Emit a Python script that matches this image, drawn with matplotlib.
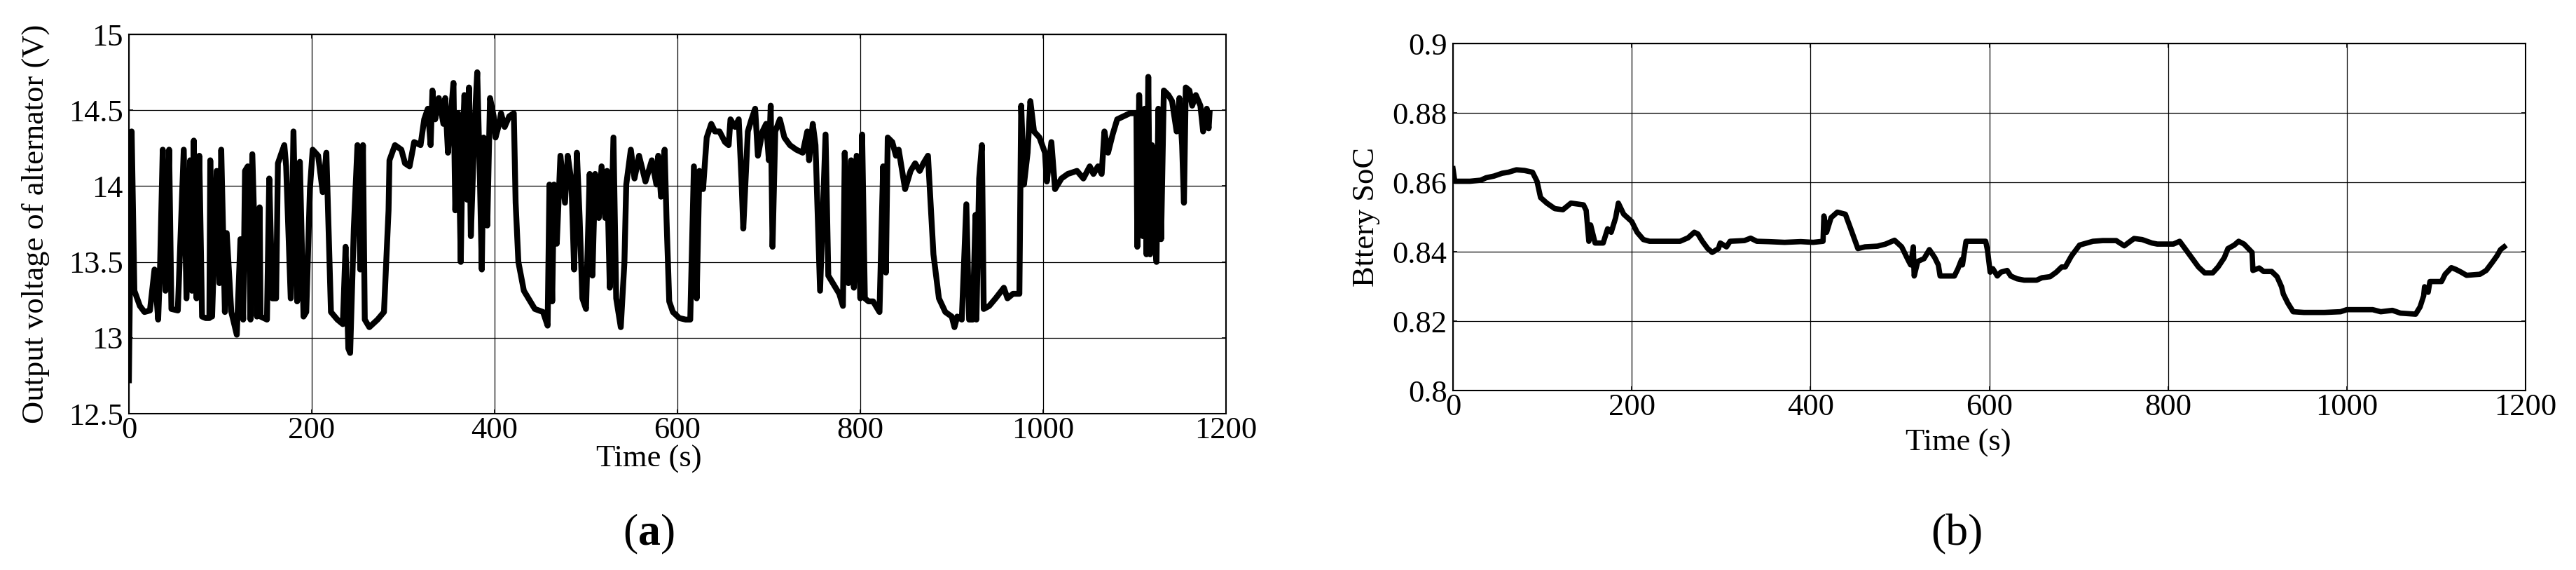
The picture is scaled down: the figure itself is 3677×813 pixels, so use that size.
import numpy as np
import matplotlib
matplotlib.use("Agg")
import matplotlib.pyplot as plt

plt.rcParams['font.family'] = ['Liberation Serif', 'DejaVu Serif']
plt.rcParams['mathtext.fontset'] = 'custom'
plt.rcParams['mathtext.rm'] = 'Liberation Serif'
plt.rcParams['mathtext.bf'] = 'Liberation Serif:bold'

# (a) alternator output voltage
t_volt = [0, 3, 6, 12, 17, 23, 28, 32, 34, 37, 40, 44, 46.5, 53.5, 60, 63, 67, 69, 71, 72,
          74, 77, 80, 84, 88, 89, 91, 96, 99, 101, 105, 107, 112, 118, 122, 125, 127, 130, 133, 135,
          140, 143, 144, 151, 153.5, 157, 161, 163, 167, 170, 172, 177, 180, 184, 187, 191, 194, 198, 201, 207,
          212, 216, 221, 228, 234, 237, 240, 242, 246, 250, 253, 256, 258, 263, 272, 279, 284, 285, 291, 298,
          302, 307, 312, 319, 323, 327, 330, 332, 335, 339, 344, 346, 349, 351, 355, 357, 360, 363, 365, 367,
          370, 372, 374, 378, 381, 384, 386, 388, 392, 395, 399, 401, 405, 407, 411, 416, 421, 423, 426, 432,
          444, 453, 458, 460, 463, 465, 468, 472, 477, 480, 484, 487, 490, 493, 496, 500, 504, 507, 510, 514,
          517, 521, 523, 526, 530, 533, 538, 542, 544, 549, 553, 558, 565, 572, 577, 579, 582, 586, 588, 591,
          595, 602, 609, 614, 618, 621, 624, 628, 632, 637, 641, 646, 652, 656, 658, 663, 667, 670, 672, 677,
          681, 685, 688, 693, 697, 700, 702, 704, 707, 712, 717, 723, 730, 737, 742, 744, 748, 751, 756, 758,
          762, 765, 770, 777, 781, 783, 787, 790, 793, 796, 800, 802, 805, 809, 814, 821, 825, 828, 830, 835,
          839, 842, 849, 855, 860, 865, 869, 874, 880, 886, 893, 900, 903, 906, 911, 916, 919, 923, 926, 927,
          930, 933, 935, 941, 948, 957, 961, 967, 974, 976, 979, 983, 986, 990, 996, 1002, 1004, 1009, 1013, 1020,
          1027, 1037, 1044, 1051, 1055, 1060, 1064, 1067, 1071, 1076, 1081, 1088, 1095, 1102, 1103, 1105, 1109, 1111, 1113, 1115,
          1117, 1119, 1121, 1124, 1126, 1129, 1132, 1137, 1141, 1146, 1149, 1152, 1154, 1156, 1160, 1163, 1167, 1172, 1175, 1179,
          1181, 1182]
volt = [12.72, 14.36, 13.31, 13.21, 13.17, 13.18, 13.45, 13.12, 13.45, 14.24, 13.31, 14.24, 13.19, 13.18, 14.24, 13.26, 14.17, 13.31, 14.30, 13.79,
        13.26, 14.20, 13.14, 13.13, 13.13, 14.17, 13.14, 14.10, 13.36, 14.24, 13.17, 13.69, 13.17, 13.02, 13.65, 13.12, 14.10, 14.13, 13.12, 14.21,
        13.14, 13.86, 13.14, 13.12, 14.05, 13.26, 13.26, 14.15, 14.22, 14.27, 14.13, 13.26, 14.36, 13.24, 14.16, 13.14, 13.17, 13.98, 14.24, 14.20,
        13.96, 14.22, 13.17, 13.12, 13.09, 13.60, 12.93, 12.90, 13.72, 14.27, 13.45, 14.27, 13.12, 13.07, 13.12, 13.17, 13.84, 14.17, 14.27, 14.24,
        14.15, 14.13, 14.29, 14.27, 14.44, 14.51, 14.27, 14.63, 14.44, 14.58, 14.41, 14.58, 14.22, 14.39, 14.68, 13.84, 14.48, 13.50, 14.27, 14.60,
        13.91, 14.65, 13.67, 14.39, 14.75, 14.03, 13.45, 14.32, 13.74, 14.58, 14.46, 14.32, 14.41, 14.48, 14.39, 14.46, 14.48, 13.89, 13.50, 13.31,
        13.19, 13.17, 13.08, 14.01, 13.24, 14.01, 13.62, 14.20, 13.89, 14.20, 14.03, 13.45, 14.22, 13.79, 13.26, 13.19, 14.08, 13.41, 14.08, 13.79,
        14.13, 13.79, 14.10, 13.33, 14.32, 13.26, 13.07, 13.50, 14.01, 14.24, 14.05, 14.20, 14.03, 14.17, 14.01, 14.20, 13.93, 14.24, 13.79, 13.24,
        13.17, 13.13, 13.12, 13.12, 14.13, 13.26, 14.10, 13.98, 14.32, 14.41, 14.36, 14.36, 14.29, 14.27, 14.44, 14.39, 14.44, 14.05, 13.72, 14.36,
        14.44, 14.51, 14.20, 14.36, 14.41, 14.17, 14.53, 13.60, 14.36, 14.44, 14.32, 14.27, 14.24, 14.22, 14.36, 14.17, 14.41, 14.27, 13.31, 13.65,
        14.34, 13.41, 13.36, 13.29, 13.21, 14.22, 13.36, 14.17, 13.33, 14.20, 13.26, 14.34, 13.26, 13.24, 13.24, 13.17, 14.13, 13.43, 14.32, 14.29,
        14.20, 14.24, 13.98, 14.10, 14.15, 14.10, 14.15, 14.20, 13.55, 13.26, 13.17, 13.14, 13.07, 13.14, 13.12, 13.88, 13.12, 13.12, 13.81, 13.12,
        14.05, 14.27, 13.19, 13.21, 13.26, 13.33, 13.26, 13.29, 13.29, 14.53, 14.01, 14.22, 14.56, 14.36, 14.32, 14.22, 14.03, 14.29, 13.98, 14.05,
        14.08, 14.10, 14.05, 14.13, 14.08, 14.13, 14.08, 14.36, 14.22, 14.34, 14.44, 14.46, 14.48, 14.48, 13.60, 14.60, 13.67, 14.51, 13.55, 14.72,
        13.55, 14.27, 13.74, 13.50, 14.51, 13.65, 14.63, 14.60, 14.56, 14.36, 14.58, 14.27, 13.89, 14.65, 14.63, 14.53, 14.60, 14.53, 14.36, 14.51,
        14.38, 14.48]

# (b) battery state of charge
t_soc = [0, 2, 19, 31, 37, 46, 55, 62, 71, 80, 89, 94, 98, 105, 114, 123, 132, 146, 149, 152,
         154, 159, 168, 173, 177, 182, 185, 191, 200, 206, 213, 220, 254, 263, 270, 274, 279, 285, 290, 297,
         299, 306, 310, 326, 333, 340, 353, 371, 389, 403, 414, 415, 418, 423, 430, 439, 445, 453, 461, 475,
         484, 494, 502, 509, 512, 515, 516, 520, 527, 533, 539, 543, 545, 561, 565, 569, 570, 574, 596, 598,
         601, 604, 609, 613, 620, 624, 631, 639, 653, 659, 668, 675, 681, 685, 692, 701, 705, 716, 727, 742,
         751, 762, 771, 782, 788, 806, 813, 819, 828, 834, 841, 850, 856, 863, 867, 874, 879, 885, 894, 895,
         902, 907, 916, 922, 927, 929, 934, 940, 952, 975, 993, 1000, 1029, 1038, 1051, 1060, 1077, 1082, 1086, 1087,
         1091, 1093, 1106, 1110, 1117, 1122, 1128, 1134, 1149, 1156, 1163, 1168, 1172, 1176]
soc = [0.8639, 0.8603, 0.8603, 0.8606, 0.8613, 0.8618, 0.8626, 0.8629, 0.8636, 0.8634, 0.8629, 0.8603, 0.8556, 0.8540, 0.8524, 0.8521, 0.8540, 0.8535, 0.8519, 0.8430,
       0.8477, 0.8425, 0.8425, 0.8466, 0.8456, 0.8498, 0.8540, 0.8508, 0.8487, 0.8456, 0.8435, 0.8430, 0.8430, 0.8440, 0.8456, 0.8451, 0.8430, 0.8409, 0.8398, 0.8409,
       0.8425, 0.8414, 0.8430, 0.8432, 0.8439, 0.8430, 0.8429, 0.8427, 0.8429, 0.8427, 0.8430, 0.8503, 0.8456, 0.8498, 0.8514, 0.8508, 0.8466, 0.8409, 0.8414, 0.8416,
       0.8422, 0.8433, 0.8414, 0.8377, 0.8362, 0.8414, 0.8330, 0.8372, 0.8380, 0.8406, 0.8383, 0.8362, 0.8330, 0.8330, 0.8351, 0.8377, 0.8362, 0.8430, 0.8430, 0.8404,
       0.8341, 0.8351, 0.8330, 0.8341, 0.8346, 0.8330, 0.8322, 0.8318, 0.8318, 0.8325, 0.8328, 0.8341, 0.8356, 0.8356, 0.8388, 0.8419, 0.8422, 0.8430, 0.8432, 0.8432,
       0.8417, 0.8438, 0.8435, 0.8425, 0.8422, 0.8422, 0.8430, 0.8409, 0.8377, 0.8356, 0.8339, 0.8339, 0.8356, 0.8383, 0.8409, 0.8419, 0.8430, 0.8422, 0.8398, 0.8346,
       0.8353, 0.8343, 0.8343, 0.8328, 0.8299, 0.8278, 0.8252, 0.8227, 0.8225, 0.8225, 0.8227, 0.8233, 0.8233, 0.8227, 0.8231, 0.8223, 0.8220, 0.8241, 0.8273, 0.8299,
       0.8283, 0.8314, 0.8314, 0.8335, 0.8354, 0.8349, 0.8341, 0.8332, 0.8335, 0.8346, 0.8370, 0.8388, 0.8406, 0.8414]

x_ticks = [0, 200, 400, 600, 800, 1000, 1200]
volt_ticks = [12.5, 13, 13.5, 14, 14.5, 15]
volt_labels = ["12.5", "13", "13.5", "14", "14.5", "15"]
soc_ticks = [0.8, 0.82, 0.84, 0.86, 0.88, 0.9]
soc_labels = ["0.8", "0.82", "0.84", "0.86", "0.88", "0.9"]

W, H = 3677, 813
fig = plt.figure(figsize=(W / 100, H / 100), dpi=100)

ax1 = fig.add_axes([184 / W, 1 - 590 / H, (1750 - 184) / W, (590 - 49) / H])
ax2 = fig.add_axes([2074 / W, 1 - 557 / H, (3605 - 2074) / W, (557 - 62) / H])

fs = 32


def style(ax):
    ax.set_xlim(0, 1200)
    ax.set_xticks(x_ticks)
    ax.grid(True, color="black", linewidth=0.9)
    ax.tick_params(direction="in", length=4, width=1.2, top=True, right=True,
                   labelsize=fs, pad=3)
    ax.tick_params(axis="y", pad=6)
    for s in ax.spines.values():
        s.set_linewidth(1.5)


ax1.plot(t_volt, volt, color="black", linewidth=6)
style(ax1)
ax1.set_ylim(12.5, 15)
ax1.set_yticks(volt_ticks)
ax1.set_yticklabels(volt_labels)
ax1.set_xlabel("Time (s)", fontsize=fs)
ax1.xaxis.set_label_coords(0.474, -0.083)
ax1.set_ylabel("Output voltage of alternator (V)", fontsize=fs)
ax1.yaxis.set_label_coords(-0.072, 0.5)

ax2.plot(t_soc, soc, color="black", linewidth=5.5)
style(ax2)
ax2.set_ylim(0.8, 0.9)
ax2.set_yticks(soc_ticks)
ax2.set_yticklabels(soc_labels)
ax2.set_xlabel("Time (s)", fontsize=fs)
ax2.xaxis.set_label_coords(0.471, -0.11)
ax2.set_ylabel("Bttery SoC", fontsize=fs)
ax2.yaxis.set_label_coords(-0.068, 0.5)

fig.text(926 / W, 1 - 762 / H, r"($\mathbf{a}$)", fontsize=46, ha="center", va="center")
fig.text(2793 / W, 1 - 762 / H, "(b)", fontsize=46, ha="center", va="center")

fig.savefig("out.png", dpi=100)
plt.close()
